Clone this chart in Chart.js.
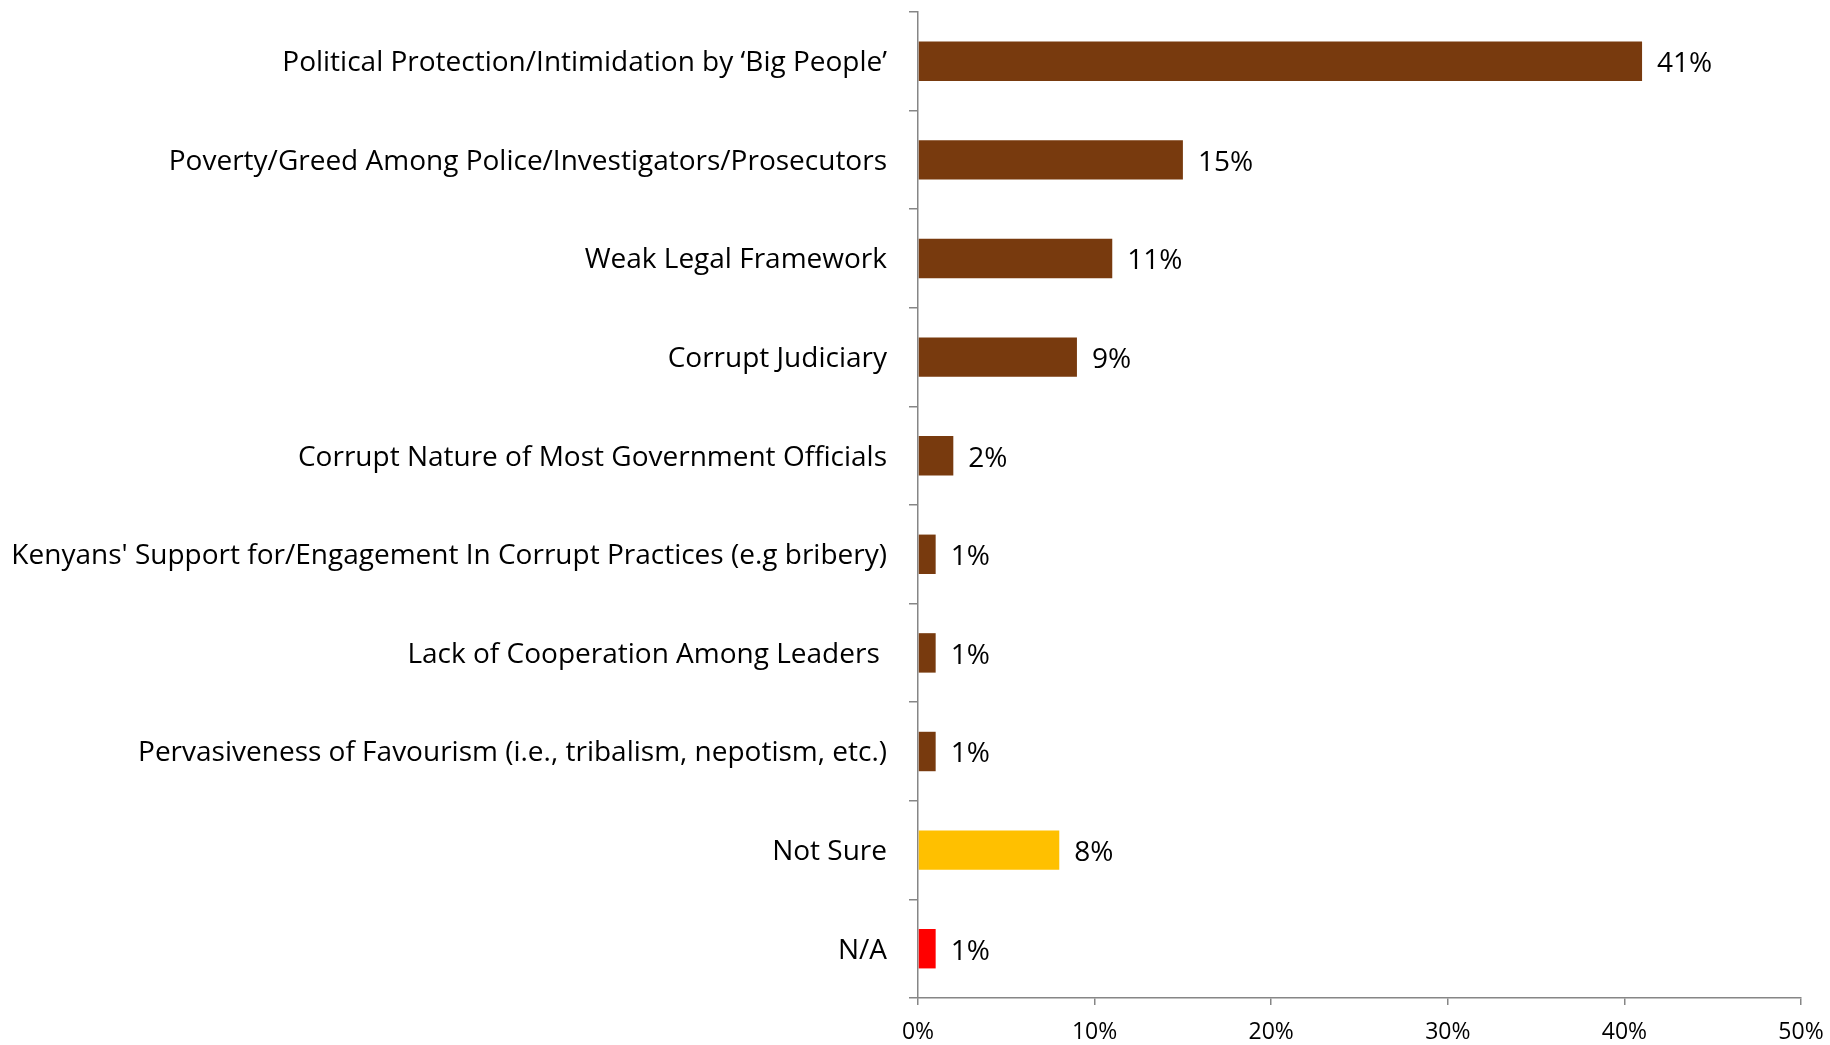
<!DOCTYPE html>
<html>
<head>
<meta charset="utf-8">
<script src="https://cdn.jsdelivr.net/npm/chart.js@4"></script>
<style>
html,body{margin:0;padding:0;background:#fff;}
canvas{display:block;}
</style>
</head>
<body>
<canvas id="c" width="1830" height="1045"></canvas>
<script>
const categories = [
  "Political Protection/Intimidation by \u2018Big People\u2019",
  "Poverty/Greed Among Police/Investigators/Prosecutors",
  "Weak Legal Framework",
  "Corrupt Judiciary",
  "Corrupt Nature of Most Government Officials",
  "Kenyans' Support for/Engagement In Corrupt Practices (e.g bribery)",
  "Lack of Cooperation Among Leaders ",
  "Pervasiveness of Favourism (i.e., tribalism, nepotism, etc.)",
  "Not Sure",
  "N/A"
];
const values = [41, 15, 11, 9, 2, 1, 1, 1, 8, 1];
const barColors = ["#783A0E","#783A0E","#783A0E","#783A0E","#783A0E","#783A0E","#783A0E","#783A0E","#FFC000","#FF0000"];
const xTicks = [0, 10, 20, 30, 40, 50];

const FONT = "'Open Sans', sans-serif";

const valueLabels = {
  id: 'valueLabels',
  afterDatasetsDraw(chart) {
    const ctx = chart.ctx;
    const meta = chart.getDatasetMeta(0);
    ctx.save();
    ctx.font = "28px " + FONT;
    ctx.fillStyle = "#000";
    ctx.textAlign = "left";
    ctx.textBaseline = "middle";
    meta.data.forEach((bar, i) => {
      ctx.fillText(values[i] + "%", bar.x + 15, bar.y + 3);
    });
    ctx.restore();
  }
};

new Chart(document.getElementById('c'), {
  type: 'bar',
  data: {
    labels: categories,
    datasets: [{
      data: values,
      backgroundColor: barColors,
      borderWidth: 0,
      barPercentage: 0.4,
      categoryPercentage: 1.0
    }]
  },
  options: {
    indexAxis: 'y',
    responsive: false,
    animation: false,
    layout: { padding: { top: 12, right: 29, left: 0, bottom: 0 } },
    plugins: { legend: { display: false }, tooltip: { enabled: false } },
    scales: {
      x: {
        min: 0, max: 50,
        afterBuildTicks(scale) { scale.ticks = xTicks.map(v => ({ value: v })); },
        afterFit(scale) { scale.height = 47; scale.paddingLeft = 0; scale.paddingRight = 0; },
        border: { display: true, color: '#868686', width: 1.5 },
        grid: { drawOnChartArea: false, drawTicks: true, tickLength: 7, color: '#868686', lineWidth: 1.5 },
        ticks: {
          font: { family: FONT, size: 23 },
          color: '#000',
          padding: 14,
          callback: v => v + '%'
        }
      },
      y: {
        afterFit(scale) { scale.width = 918; scale.paddingTop = 0; scale.paddingBottom = 0; },
        border: { display: true, color: '#868686', width: 1.5 },
        grid: { offset: true, drawOnChartArea: false, drawTicks: true, tickLength: 9, color: '#868686', lineWidth: 1.5 },
        ticks: {
          font: { family: FONT, size: 28 },
          color: '#000',
          padding: 22,
          labelOffset: 2
        }
      }
    }
  },
  plugins: [valueLabels]
});
</script>
</body>
</html>
